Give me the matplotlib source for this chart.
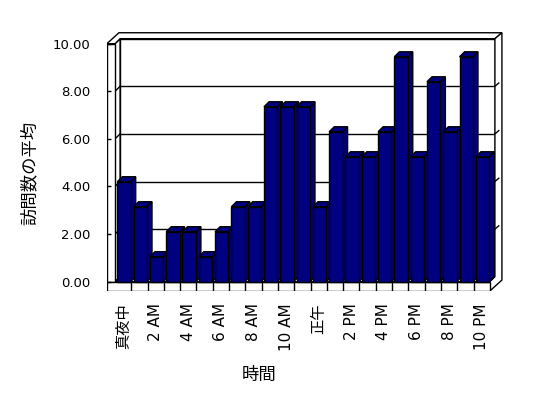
import matplotlib
matplotlib.use("Agg")
import matplotlib.pyplot as plt
from matplotlib.patches import Polygon, Rectangle

plt.rcParams['font.family'] = ['DejaVu Sans', 'Noto Sans CJK JP']

# average visits per hour (no data for 11 PM)
hours = list(range(23))
visits = [4.2, 3.15, 1.05, 2.1, 2.1, 1.05, 2.1, 3.15, 3.15, 7.35, 7.35, 7.35,
          3.15, 6.3, 5.25, 5.25, 6.3, 9.45, 5.25, 8.4, 6.3, 9.45, 5.25]
tick_pos = list(range(0, 23, 2))
tick_labels = ['真夜中', '2 AM', '4 AM', '6 AM', '8 AM', '10 AM',
               '正午', '2 PM', '4 PM', '6 PM', '8 PM', '10 PM']
yticks = [0, 2, 4, 6, 8, 10]

navy = '#000080'
dx, dy = 0.31, 0.21      # depth of the plot area
tx, ty = 0.43, 0.25      # wall thickness
xl, xr = -0.5, 22.5      # floor front edge
wall = -1.0
floor = -0.39
top = 10

fig = plt.figure(figsize=(5.48, 3.98), dpi=100)
ax = fig.add_axes([0.195, 0.2683, 0.7227, 0.6518])
ax.set_xlim(-1.0, 23.3)
ax.set_ylim(-0.4, 10.5)
for s in ax.spines.values():
    s.set_visible(False)

def poly(pts, z, fc='white'):
    ax.add_patch(Polygon(pts, closed=True, facecolor=fc, edgecolor='black',
                         linewidth=1, zorder=z, joinstyle='miter'))

# back wall inner face + gridlines
poly([(xl + dx, dy), (xr + dx, dy), (xr + dx, top + dy), (xl + dx, top + dy)], 0.5)
# left wall inner strip
poly([(xl, 0), (xl + dx, dy), (xl + dx, top + dy), (xl, top)], 0.6)
for v in yticks[1:-1]:
    ax.plot([xl + dx, xr + dx], [v + dy, v + dy], color='black', lw=1, zorder=0.7)
    ax.plot([xl, xl + dx], [v, v + dy], color='black', lw=1, zorder=0.7)
# floor top
poly([(xl, 0), (xr, 0), (xr + dx, dy), (xl + dx, dy)], 0.6)
# left wall front face
poly([(wall, 0), (xl, 0), (xl, top), (wall, top)], 0.8)
# top of left + back wall
poly([(wall, top), (xl, top), (xl + dx, top + dy), (xr + dx, top + dy),
      (xr + dx + tx, top + dy + ty), (wall + dx + tx, top + dy + ty)], 0.8)
# right end of back wall and floor
poly([(xr, floor), (xr, 0), (xr + dx, dy), (xr + dx, top + dy),
      (xr + dx + tx, top + dy + ty), (xr + dx + tx, floor + dy + ty)], 0.8)
for v in yticks[1:-1]:
    ax.plot([xr + dx, xr + dx + tx * 0.55], [v + dy, v + dy + ty * 0.55],
            color='black', lw=1, zorder=0.9)
# floor front face with category dividers
poly([(wall, floor), (xr, floor), (xr, 0), (wall, 0)], 0.8)
for k in range(1, 23):
    ax.plot([xl + k, xl + k], [floor, 0], color='black', lw=1, zorder=0.9)

# bars: sides and tops first, then the front faces
w = 0.82
off = 0.05
for x, h in zip(hours, visits):
    x0 = x + off - w / 2
    x1 = x + off + w / 2
    poly([(x1, 0), (x1 + dx, dy), (x1 + dx, h + dy), (x1, h)], 2, navy)
    poly([(x0, h), (x1, h), (x1 + dx, h + dy), (x0 + dx, h + dy)], 2, navy)
ax.bar([x + off for x in hours], visits, width=w, color=navy,
       edgecolor='black', linewidth=1, zorder=3)

ax.set_xticks(tick_pos)
ax.set_xticklabels(tick_labels, rotation=90, fontsize=11, va='top')
ax.tick_params(axis='x', length=0, pad=8.5)
ax.set_yticks(yticks)
ax.set_yticklabels(['%.2f' % v for v in yticks], fontsize=9.5)
ax.tick_params(axis='y', direction='in', length=3, width=1, pad=12)

fig.text(30 / 548, 1 - 173 / 398, '訪問数の平均', rotation=90, fontsize=12.5,
         ha='center', va='center', family=['Noto Sans CJK JP'])
fig.text(259 / 548, 1 - 375 / 398, '時間', fontsize=12.5,
         ha='center', va='center', family=['Noto Sans CJK JP'])

plt.savefig('out.png', dpi=100)
